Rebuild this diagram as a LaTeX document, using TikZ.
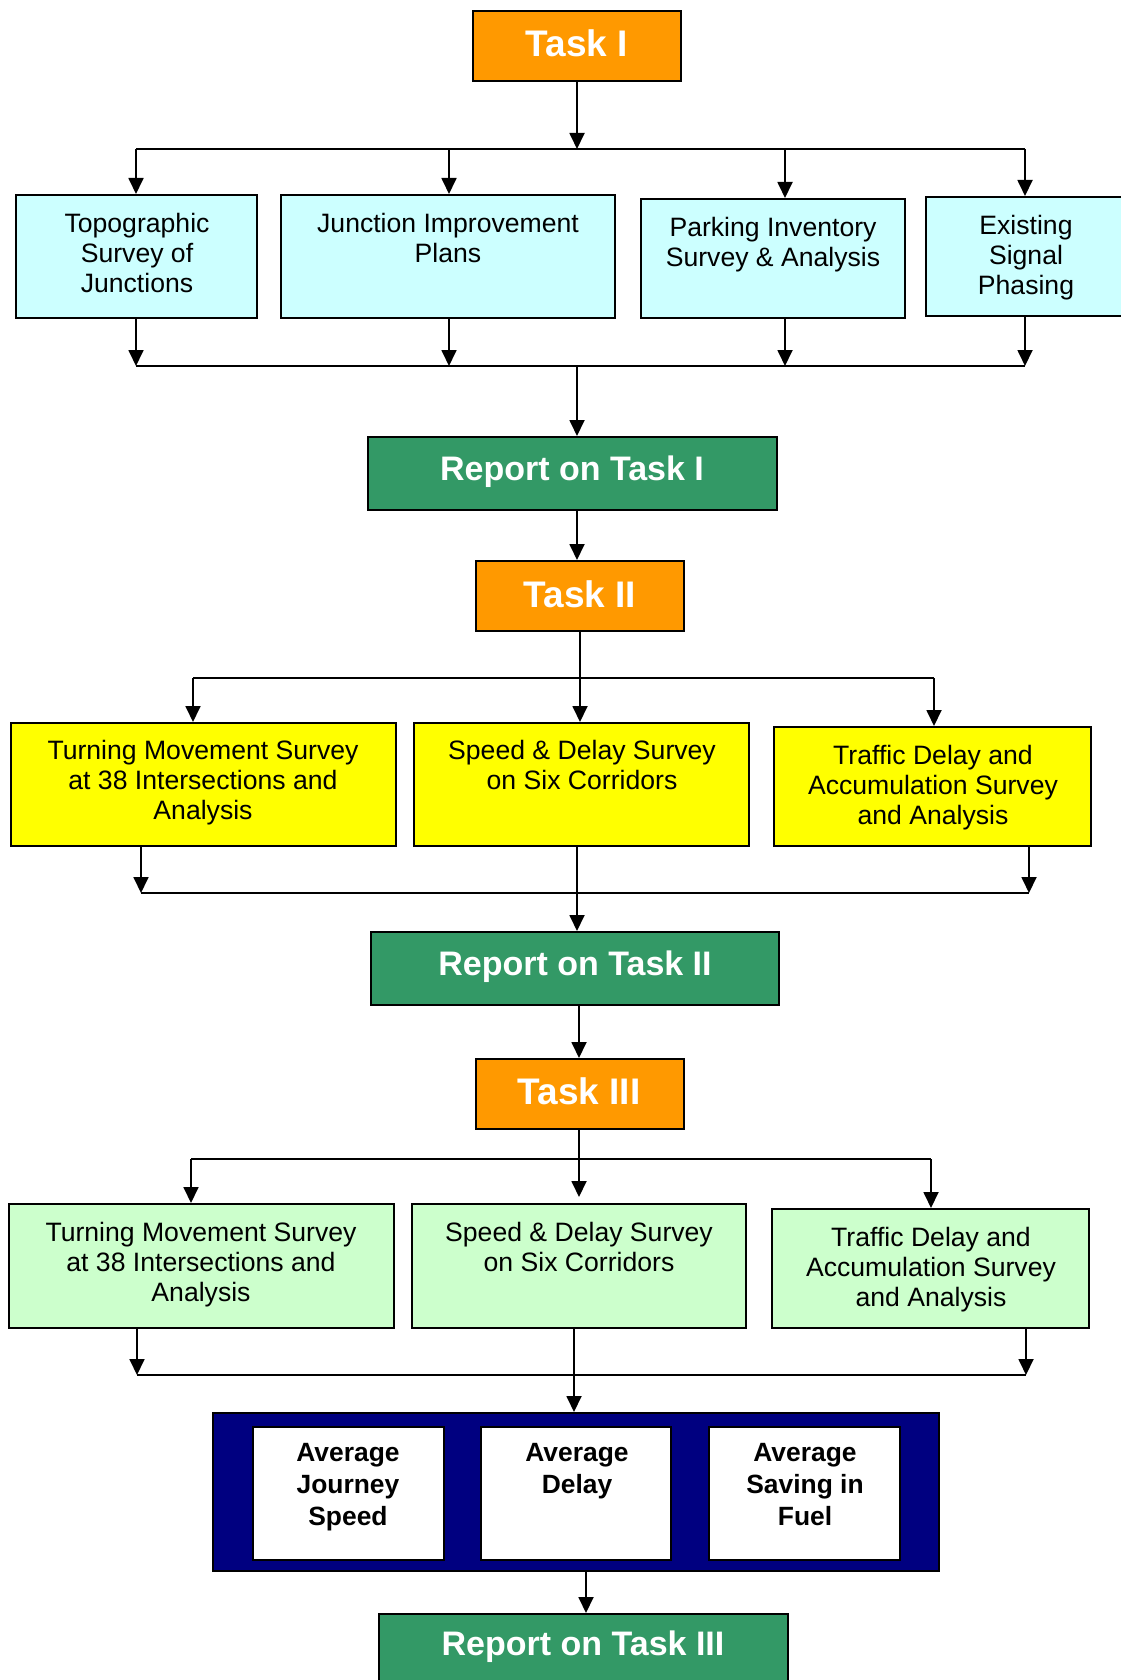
\documentclass[tikz,border=0pt]{standalone}
\usepackage{fontspec}
\setmainfont{Liberation Sans}
\usetikzlibrary{arrows.meta,fit}
\definecolor{org}{HTML}{FF9900}
\definecolor{rep}{HTML}{339966}
\definecolor{cy}{HTML}{CCFFFF}
\definecolor{yl}{HTML}{FFFF00}
\definecolor{lg}{HTML}{CCFFCC}
\definecolor{nv}{HTML}{000080}
\begin{document}
\begin{tikzpicture}[x=0.5pt,y=-0.5pt,
  bx/.style={draw=black, line width=1pt, inner sep=0pt, rectangle},
  taskbox/.style={bx, fill=org},
  repbox/.style={bx, fill=rep},
  cybox/.style={bx, fill=cy},
  ylbox/.style={bx, fill=yl},
  lgbox/.style={bx, fill=lg},
  nvbox/.style={bx, fill=nv},
  whbox/.style={bx, fill=white},
  ttl/.style={text=white, font=\bfseries\fontsize{18.5}{20}\selectfont, inner sep=0pt, anchor=base},
  rtl/.style={text=white, font=\bfseries\fontsize{17}{19}\selectfont, inner sep=0pt, anchor=base},
  txt/.style={font=\fontsize{13.3}{15}\selectfont, align=center, inner sep=0pt, anchor=north},
  btxt/.style={font=\bfseries\fontsize{13.2}{16}\selectfont, align=center, inner sep=0pt, anchor=north},
  arr/.style={line width=0.9pt, -{Triangle[length=8pt,width=7.5pt]}},
  ln/.style={line width=1pt}]
\useasboundingbox (0,0) rectangle (1120,1680);

% ---------- Task I ----------
\node[taskbox, fit={(473,11) (681,81)}] (t1) {};
\node[ttl] (t1t) at (577,57) {Task I};

\node[cybox, fit={(16,195) (257,318)}] (c1) {};
\node[cybox, fit={(281,195) (615,318)}] (c2) {};
\node[cybox, fit={(641,199) (905,318)}] (c3) {};
\node[cybox, fit={(926,197) (1132,316)}] (c4) {};
\node[txt] (c1t) at (137,213) {Topographic\\Survey of\\Junctions};
\node[txt] (c2t) at (448,213) {Junction Improvement\\Plans};
\node[txt] (c3t) at (773,217) {Parking Inventory\\Survey \& Analysis};
\node[txt] (c4t) at (1026,215) {Existing\\Signal\\Phasing};

\coordinate (b1) at (577,149);
\coordinate (b1l) at (136,149);
\coordinate (b1r) at (1025,149);
\coordinate (a2) at (449,0);
\coordinate (a3) at (785,0);
\draw[arr] (t1.south -| b1) -- (b1);
\draw[ln] (b1l) -- (b1r);
\draw[arr] (b1l) -- (b1l |- c1.north);
\draw[arr] (a2 |- b1) -- (a2 |- c2.north);
\draw[arr] (a3 |- b1) -- (a3 |- c3.north);
\draw[arr] (b1r) -- (b1r |- c4.north);

\coordinate (b2) at (577,366);
\coordinate (b2l) at (136,366);
\coordinate (b2r) at (1025,366);
\draw[arr] (b2l |- c1.south) -- (b2l);
\draw[arr] (a2 |- c2.south) -- (a2 |- b2);
\draw[arr] (a3 |- c3.south) -- (a3 |- b2);
\draw[arr] (b2r |- c4.south) -- (b2r);
\draw[ln] (b2l) -- (b2r);

% ---------- Report I ----------
\node[repbox, fit={(368,437) (777,510)}] (r1) {};
\node[rtl] (r1t) at (572,480) {Report on Task I};
\draw[arr] (b2) -- (b2 |- r1.north);

% ---------- Task II ----------
\node[taskbox, fit={(476,561) (684,631)}] (t2) {};
\node[ttl] (t2t) at (580,607) {Task II};
\draw[arr] (r1.south -| b2) -- (b2 |- t2.north);

\node[ylbox, fit={(11,723) (396,846)}] (y1) {};
\node[ylbox, fit={(414,723) (749,846)}] (y2) {};
\node[ylbox, fit={(774,727) (1091,846)}] (y3) {};
\node[txt] (y1t) at (203,740) {Turning Movement Survey\\at 38 Intersections and\\Analysis};
\node[txt] (y2t) at (582,740) {Speed \& Delay Survey\\on Six Corridors};
\node[txt] (y3t) at (933,745) {Traffic Delay and\\Accumulation Survey\\and Analysis};

\coordinate (b3l) at (193,678);
\coordinate (b3r) at (934,678);
\coordinate (a5) at (580,0);
\draw[arr] (t2.south -| a5) -- (a5 |- y2.north);
\draw[ln] (b3l) -- (b3r);
\draw[arr] (b3l) -- (b3l |- y1.north);
\draw[arr] (b3r) -- (b3r |- y3.north);

\coordinate (b4l) at (141,893);
\coordinate (b4r) at (1029,893);
\coordinate (a6) at (577,0);
\draw[arr] (b4l |- y1.south) -- (b4l);
\draw[arr] (b4r |- y3.south) -- (b4r);
\draw[ln] (b4l) -- (b4r);

% ---------- Report II ----------
\node[repbox, fit={(371,932) (779,1005)}] (r2) {};
\node[rtl] (r2t) at (575,975) {Report on Task II};
\draw[arr] (a6 |- y2.south) -- (a6 |- r2.north);

% ---------- Task III ----------
\node[taskbox, fit={(476,1059) (684,1129)}] (t3) {};
\node[ttl] (t3t) at (579,1104) {Task III};
\coordinate (a7) at (579,0);
\draw[arr] (a7 |- r2.south) -- (a7 |- t3.north);

\node[lgbox, fit={(9,1204) (394,1328)}] (g1) {};
\node[lgbox, fit={(412,1204) (746,1328)}] (g2) {};
\node[lgbox, fit={(772,1209) (1089,1328)}] (g3) {};
\node[txt] (g1t) at (201,1222) {Turning Movement Survey\\at 38 Intersections and\\Analysis};
\node[txt] (g2t) at (579,1222) {Speed \& Delay Survey\\on Six Corridors};
\node[txt] (g3t) at (931,1227) {Traffic Delay and\\Accumulation Survey\\and Analysis};

\coordinate (b5l) at (191,1159);
\coordinate (b5r) at (931,1159);
\coordinate (a8) at (579,1197);
\draw[arr] (a7 |- t3.south) -- (a8);
\draw[ln] (b5l) -- (b5r);
\draw[arr] (b5l) -- (b5l |- g1.north);
\draw[arr] (b5r) -- (b5r |- g3.north);

\coordinate (b6l) at (137,1375);
\coordinate (b6r) at (1026,1375);
\coordinate (a9) at (574,0);
\draw[arr] (b6l |- g1.south) -- (b6l);
\draw[arr] (b6r |- g3.south) -- (b6r);
\draw[ln] (b6l) -- (b6r);

% ---------- Results ----------
\node[nvbox, fit={(213,1413) (939,1571)}] (nv) {};
\node[whbox, fit={(253,1427) (444,1560)}] (w1) {};
\node[whbox, fit={(481,1427) (671,1560)}] (w2) {};
\node[whbox, fit={(709,1427) (900,1560)}] (w3) {};
\node[btxt] (w1t) at (348,1443) {Average\\Journey\\Speed};
\node[btxt] (w2t) at (577,1443) {Average\\Delay};
\node[btxt] (w3t) at (805,1443) {Average\\Saving in\\Fuel};
\draw[arr] (a9 |- g2.south) -- (a9 |- nv.north);

% ---------- Report III ----------
\node[repbox, fit={(379,1614) (788,1690)}] (r3) {};
\node[rtl] (r3t) at (583,1655) {Report on Task III};
\coordinate (a10) at (586,0);
\draw[arr] (a10 |- nv.south) -- (a10 |- r3.north);
\end{tikzpicture}
\end{document}
